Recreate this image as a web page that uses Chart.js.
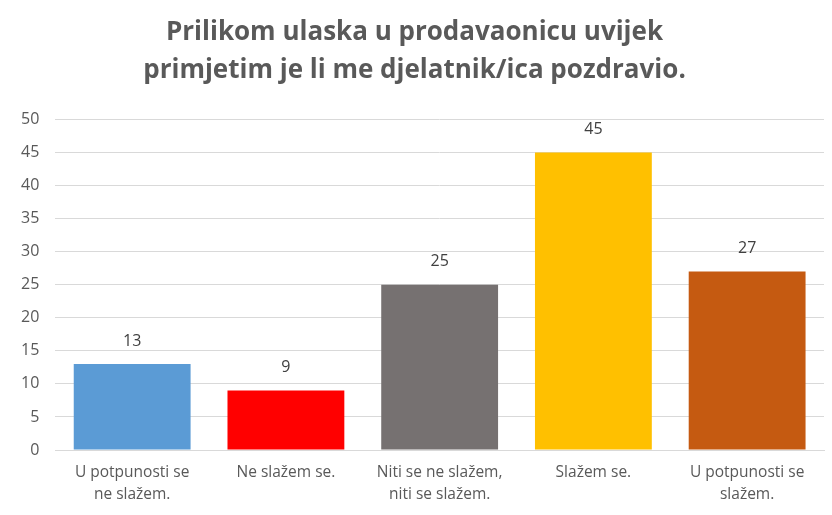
<!DOCTYPE html>
<html>
<head>
<meta charset="utf-8">
<script src="https://cdn.jsdelivr.net/npm/chart.js@4/dist/chart.umd.min.js"></script>
<style>
  html, body { margin:0; padding:0; background:#fff; }
  #wrap { width:832px; height:515px; position:relative; }
</style>
</head>
<body>
<div id="wrap"><canvas id="chart"></canvas></div>
<script>
const categories = [
    ['U potpunosti se', 'ne slažem.'],
    ['Ne slažem se.'],
    ['Niti se ne slažem,', 'niti se slažem.'],
    ['Slažem se.'],
    ['U potpunosti se', 'slažem.']
];
const values     = [13, 9, 25, 45, 27];
const barColors  = ['#5B9BD5', '#FF0000', '#767171', '#FFC000', '#C55A11'];
const titleLines = ['Prilikom ulaska u prodavaonicu uvijek', 'primjetim je li me djelatnik/ica pozdravio.'];

const FONT = '"Open Sans", Lato, sans-serif';

// simple value labels above the bars
const valueLabels = {
    id: 'valueLabels',
    afterDatasetsDraw(chart) {
        const { ctx } = chart;
        const meta = chart.getDatasetMeta(0);
        ctx.save();
        ctx.font = '16px ' + FONT;
        ctx.fillStyle = '#404040';
        ctx.textAlign = 'center';
        ctx.textBaseline = 'middle';
        meta.data.forEach((bar, i) => {
            ctx.fillText(values[i], bar.x, bar.y - 23);
        });
        ctx.restore();
    }
};

new Chart(document.getElementById('chart'), {
    type: 'bar',
    data: {
        labels: categories,
        datasets: [{
            data: values,
            backgroundColor: barColors,
            barPercentage: 0.76,
            categoryPercentage: 1
        }]
    },
    options: {
        responsive: true,
        maintainAspectRatio: false,
        animation: false,
        layout: { padding: { left: 5, right: 8, top: 0, bottom: 6 } },
        plugins: {
            legend: { display: false },
            tooltip: { enabled: false },
            title: {
                display: true,
                text: titleLines,
                color: '#595959',
                font: { family: FONT, size: 26, weight: 'bold', lineHeight: 1.45 },
                padding: { top: 14, bottom: 30 }
            }
        },
        scales: {
            y: {
                min: 0, max: 50,
                ticks: { stepSize: 5, color: '#595959', padding: 16, font: { family: FONT, size: 16 } },
                grid: { color: '#d9d9d9', drawTicks: false },
                border: { display: false }
            },
            x: {
                ticks: { color: '#595959', padding: 3, maxRotation: 0, autoSkip: false, font: { family: FONT, size: 15.5, lineHeight: 1.45 } },
                grid: { display: false },
                border: { color: '#d9d9d9', width: 1 }
            }
        }
    },
    plugins: [valueLabels]
});
</script>
</body>
</html>
